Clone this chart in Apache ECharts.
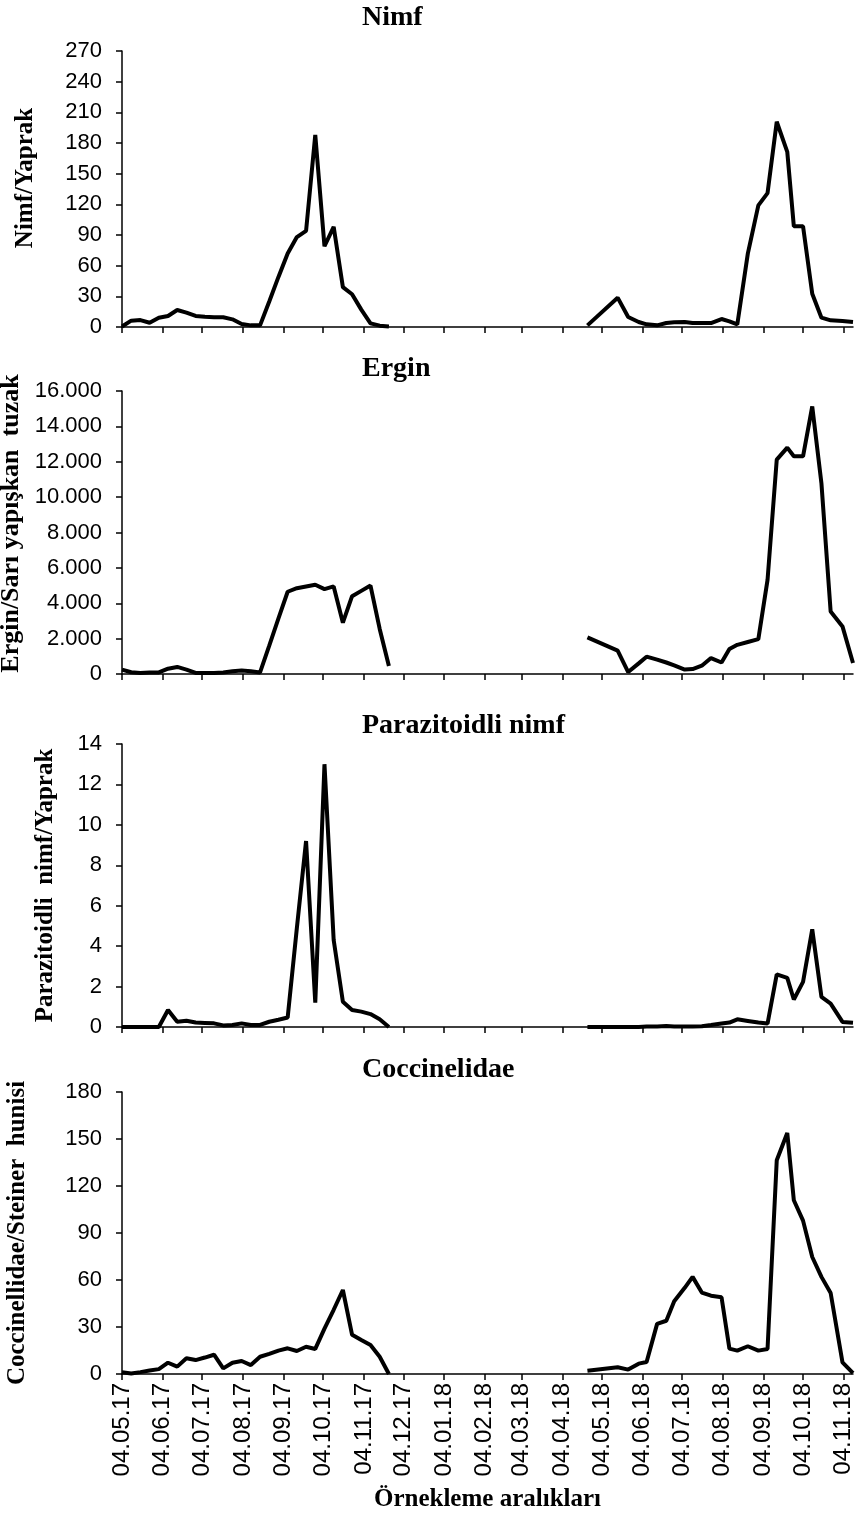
<!DOCTYPE html>
<html><head><meta charset="utf-8">
<script src="https://cdn.jsdelivr.net/npm/echarts@6/dist/echarts.min.js"></script>
<style>html,body{margin:0;padding:0;background:#fff}#c{width:856px;height:1515px}</style>
</head><body><div id="c"></div>
<script>
// ---------- data ----------
const tickLabels = ['04.05.17','04.06.17','04.07.17','04.08.17','04.09.17','04.10.17','04.11.17','04.12.17',
  '04.01.18','04.02.18','04.03.18','04.04.18','04.05.18','04.06.18','04.07.18','04.08.18','04.09.18','04.10.18','04.11.18'];
const xRange = ['04.05.17','11.11.18'];

const datesS1 = ['04.05.17','11.05.17','18.05.17','25.05.17','01.06.17','08.06.17','15.06.17','22.06.17','29.06.17','06.07.17',
  '13.07.17','20.07.17','27.07.17','03.08.17','10.08.17','17.08.17','24.08.17','31.08.17','07.09.17','14.09.17',
  '21.09.17','28.09.17','05.10.17','12.10.17','19.10.17','26.10.17','02.11.17','09.11.17','16.11.17','23.11.17'];
const datesS2 = ['23.04.18','16.05.18','24.05.18','01.06.18','07.06.18','15.06.18','22.06.18','28.06.18','06.07.18','12.07.18',
  '19.07.18','26.07.18','03.08.18','09.08.18','15.08.18','23.08.18','31.08.18','07.09.18','14.09.18','22.09.18',
  '27.09.18','04.10.18','11.10.18','18.10.18','25.10.18','03.11.18','11.11.18'];

const nimfS1 = [0.5,6.2,6.8,4.2,9,10.8,16.6,14,10.8,10,9.5,9.5,7.5,3,1.6,1.6,25,49,72,88,94,188,79,98,39,32,17,3.6,1.3,0.5];
const nimfS2 = [1.6,28.7,9.8,4.9,2.6,1.6,3.9,4.6,4.9,3.9,3.9,3.9,7.8,5.5,2.5,71.8,119,131,200.8,171.4,98.6,98.6,32.6,9.1,6.5,5.9,4.9];

const erginS1 = [250,100,50,90,90,300,400,250,60,50,50,90,150,200,150,90,1600,3150,4650,4850,4950,5050,4800,4950,2900,4400,4700,5000,2550,450];
const erginS2 = [2070,1320,110,600,980,810,650,490,250,280,470,900,650,1410,1650,1810,1970,5320,12120,12800,12310,12310,15130,10770,3530,2690,620];

const parS1 = [0,0,0,0,0,0.84,0.26,0.31,0.22,0.2,0.18,0.08,0.1,0.18,0.1,0.1,0.26,0.36,0.47,4.9,9.2,1.2,13,4.3,1.25,0.84,0.76,0.64,0.38,0];
const parS2 = [0,0,0,0,0.02,0.03,0.05,0.03,0.03,0.02,0.04,0.1,0.17,0.22,0.38,0.3,0.22,0.17,2.6,2.43,1.36,2.23,4.83,1.49,1.16,0.25,0.21];

const coccS1 = [1.1,0.3,1.2,2.2,3.1,7.2,4.7,10,8.9,10.5,12.3,3.6,7.2,8.3,5.7,11,12.8,14.9,16.4,14.7,17.4,16,29,41,53.6,25,21.7,18.5,11,0];
const coccS2 = [2.1,4.3,2.8,6.6,7.7,32,34,46.4,55,62,52,50,49,16.2,14.9,17.7,14.9,16,136.4,153.8,110.9,97.9,74.7,62,51.7,7.4,0.5];

const panelTitles = ['Nimf','Ergin','Parazitoidli nimf','Coccinelidae'];
const yNames = ['Nimf/Yaprak','Ergin/Sarı yapışkan  tuzak','Parazitoidli  nimf/Yaprak','Coccinellidae/Steiner  hunisi'];
const xName = 'Örnekleme aralıkları';
const yMax = [270,16000,14,180];
const yStep = [30,2000,2,30];

// ---------- helpers ----------
const DAY = 86400000;
function parseDate(s){ const p=s.split('.').map(Number); return Math.round(Date.UTC(2000+p[2], p[1]-1, p[0])/DAY); }
function pairs(dates, vals){ return dates.map((d,i)=>[parseDate(d), vals[i]]); }
const tickValues = tickLabels.map(parseDate);
const series1 = [nimfS1, erginS1, parS1, coccS1];
const series2 = [nimfS2, erginS2, parS2, coccS2];

const layout = [
  {top:51, height:276, titleTop:4, nameGap:84, nameSize:25, namePad:[0,0,0,22]},
  {top:391, height:283, titleTop:355, nameGap:93, nameSize:26, namePad:[0,0,0,18]},
  {top:744, height:283, titleTop:712, nameGap:64, nameSize:25, namePad:0},
  {top:1092, height:282, titleTop:1056, nameGap:92, nameSize:25, namePad:0}
];

const sans = 'Liberation Sans, Arial, sans-serif';
const serif = 'Liberation Serif, Times New Roman, serif';

const option = {
  animation:false,
  backgroundColor:'#fff',
  title: panelTitles.map((t,i)=>({text:t, left:362, top:layout[i].titleTop, padding:0,
    textStyle:{fontFamily:serif, fontWeight:'bold', fontSize:28, color:'#000'}})),
  grid: layout.map(l=>({left:122, width:731, top:l.top, height:l.height, containLabel:false, outerBoundsMode:'none'})),
  xAxis: layout.map((l,i)=>({
    type:'value', gridIndex:i, min:parseDate(xRange[0]), max:parseDate(xRange[1]),
    splitLine:{show:false},
    axisLine:{show:true, onZero:false, lineStyle:{color:'#000', width:1.5}},
    axisTick:{show:true, customValues:tickValues, length:6, lineStyle:{color:'#000', width:1.5}},
    axisLabel: i===3 ? {show:true, customValues:tickValues, rotate:90, margin:9, hideOverlap:false,
      showMinLabel:true, showMaxLabel:true,
      fontFamily:sans, fontSize:24, color:'#000',
      formatter:(v)=>{const k=tickValues.indexOf(Math.round(v)); return k>=0?tickLabels[k]:'';}} : {show:false},
    name: i===3 ? xName : '', nameLocation:'middle', nameGap:113,
    nameTextStyle:{fontFamily:serif, fontWeight:'bold', fontSize:25, color:'#000'}
  })),
  yAxis: layout.map((l,i)=>({
    type:'value', gridIndex:i, min:0, max:yMax[i], interval:yStep[i],
    splitLine:{show:false},
    axisLine:{show:true, lineStyle:{color:'#000', width:1.5}},
    axisTick:{show:true, length:6, lineStyle:{color:'#000', width:1.5}},
    axisLabel:{fontFamily:sans, fontSize:22, color:'#000', margin:20,
      formatter:(v)=>String(v).replace(/\B(?=(\d{3})+(?!\d))/g,'.')},
    name:yNames[i], nameLocation:'middle', nameGap:l.nameGap,
    nameTextStyle:{fontFamily:serif, fontWeight:'bold', fontSize:l.nameSize, color:'#000', padding:l.namePad}
  })),
  series: []
};
for(let i=0;i<4;i++){
  [pairs(datesS1, series1[i]), pairs(datesS2, series2[i])].forEach(d=>{
    option.series.push({type:'line', xAxisIndex:i, yAxisIndex:i, data:d, showSymbol:false, symbol:'none',
      lineStyle:{color:'#000', width:4}, silent:true});
  });
}
const chart = echarts.init(document.getElementById('c'), null, {renderer:'canvas'});
chart.setOption(option);
</script></body></html>
